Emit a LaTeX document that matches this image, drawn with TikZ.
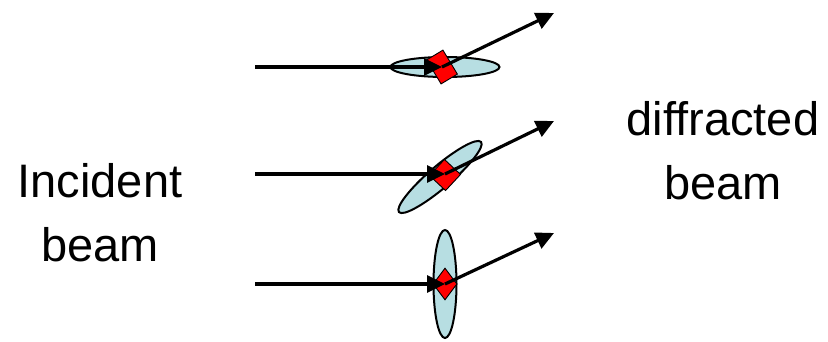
\documentclass[tikz,border=0pt]{standalone}
\usepackage{fontspec}
\setmainfont{Liberation Sans}
\usetikzlibrary{shapes.geometric,arrows.meta}
\definecolor{lensblue}{RGB}{183,222,226}
\begin{document}
\begin{tikzpicture}[x=1pt,y=-1pt,
  lens/.style={ellipse,draw=black,line width=2pt,fill=lensblue,inner sep=0pt},
  crystal/.style={rectangle,fill=red,draw=black,line width=0.9pt,inner sep=0pt},
  gem/.style={diamond,fill=red,draw=black,line width=0.9pt,inner sep=0pt},
  ray/.style={line width=3.2pt,-{Triangle[length=18pt,width=17pt]}},
  lbl/.style={font=\fontsize{47}{64}\selectfont,align=center,inner sep=0pt}]
\useasboundingbox (0,0) rectangle (828,341);
% row 1
\coordinate (s1) at (255,67);
\coordinate (t1) at (554,13);
\node[lens,minimum width=109pt,minimum height=20pt] (e1) at (445,67) {};
\node[crystal,minimum width=28pt,minimum height=19pt,rotate=-59] (d1) at (442,67) {};
\draw[ray] (s1) -- (d1.center);
\draw[ray] (d1.center) -- (t1);
% row 2
\coordinate (s2) at (255,174);
\coordinate (t2) at (554,121);
\node[lens,minimum width=108pt,minimum height=22pt,rotate=40.5] (e2) at (440,177) {};
\node[crystal,minimum size=22pt,rotate=-43] (d2) at (445,175) {};
\draw[ray] (s2) -- (445,174) coordinate (c2);
\draw[ray] (c2) -- (t2);
% row 3
\coordinate (s3) at (255,284);
\coordinate (t3) at (554,233);
\node[lens,minimum width=23pt,minimum height=108pt] (e3) at (445,284) {};
\node[gem,minimum width=24pt,minimum height=32pt] (d3) at (445,284) {};
\draw[ray] (s3) -- (d3.center);
\draw[ray] (d3.center) -- (t3);
% labels
\node[lbl] (inc) at (100,213) {Incident\\beam};
\node[lbl] (dif) at (723,151) {diffracted\\beam};
\end{tikzpicture}
\end{document}
